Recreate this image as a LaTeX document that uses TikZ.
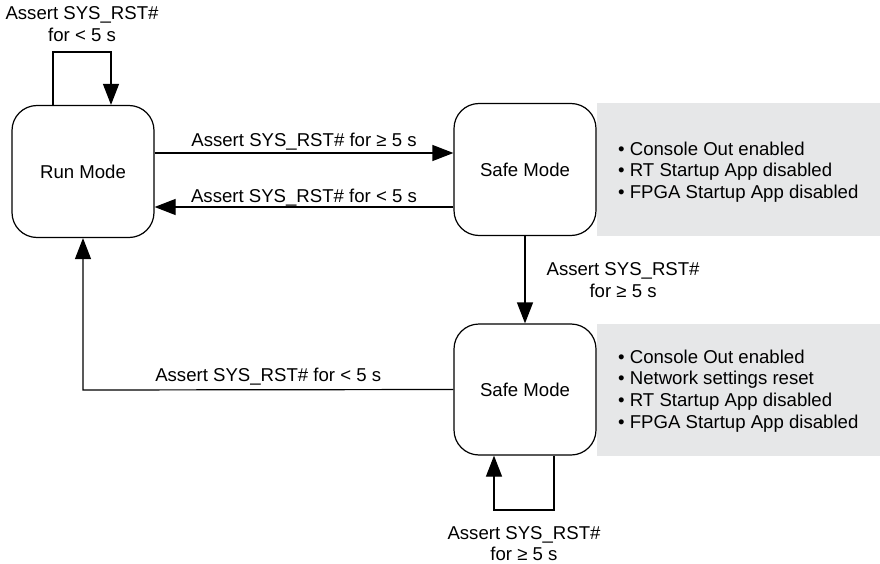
\documentclass[tikz,border=0pt]{standalone}
\usepackage{fontspec}
\setmainfont{Liberation Sans}
\usetikzlibrary{arrows.meta}
\definecolor{panelgray}{RGB}{230,231,232}
\begin{document}
\begin{tikzpicture}[x=1pt,y=-1pt,
  every node/.style={font=\fontsize{18.6}{21.8}\selectfont},
  state/.style={draw, line width=1.2pt, rounded corners=25pt, minimum width=142pt, minimum height=132pt, fill=white, inner sep=0},
  panel/.style={fill=panelgray, draw=none, minimum width=284pt, minimum height=133pt, inner sep=0},
  arr/.style={line width=1.2pt, -{Triangle[length=21pt,width=16pt]}},
  lbl/.style={inner sep=0, align=center},
  bullets/.style={inner sep=0, align=left, anchor=west}]
\useasboundingbox (0,0) rectangle (880,564);
% state boxes
\node[state] (run) at (83,171.5) {Run Mode};
\node[state] (s1) at (525,169.5) {Safe Mode};
\node[state, minimum height=131pt] (s2) at (525,389.5) {Safe Mode};
% grey panels
\node[panel, anchor=west] (p1) at (s1.east) {};
\node[panel, anchor=west, minimum height=132pt] (p2) at (s2.east) {};
\node[bullets] (t1) at (618,172) {• Console Out enabled\\• RT Startup App disabled\\• FPGA Startup App disabled};
\node[bullets] (t2) at (618,391) {• Console Out enabled\\• Network settings reset\\• RT Startup App disabled\\• FPGA Startup App disabled};
% helper coordinates
\coordinate (ya) at (0,153);
\coordinate (yb) at (0,207);
\coordinate (l1) at (53,52);
\coordinate (l2) at (111,52);
\coordinate (b1) at (554,510);
\coordinate (b2) at (494,510);
\coordinate (c1) at (83,390);
% connectors
\draw[arr] (run.east |- ya) -- node[lbl, anchor=base, yshift=6pt]{Assert SYS\_RST\# for ≥ 5 s} (s1.west |- ya);
\draw[arr] (s1.west |- yb) -- node[lbl, anchor=base, yshift=5pt]{Assert SYS\_RST\# for < 5 s} (run.east |- yb);
\draw[arr] (run.north -| l1) -- (l1) -- node[lbl, anchor=south, yshift=10pt]{Assert SYS\_RST\#\\for < 5 s} (l2) -- (run.north -| l2);
\draw[arr] (s1.south) -- node[lbl, anchor=west, xshift=21pt]{Assert SYS\_RST\#\\for ≥ 5 s} (s2.north);
\draw[arr] (s2.south -| b1) -- (b1) -- node[lbl, anchor=north, yshift=-15.5pt]{Assert SYS\_RST\#\\for ≥ 5 s} (b2) -- (s2.south -| b2);
\draw[arr] (s2.west) -- node[lbl, anchor=base, yshift=8pt]{Assert SYS\_RST\# for < 5 s} (c1) -- (run.south -| c1);
\end{tikzpicture}
\end{document}
